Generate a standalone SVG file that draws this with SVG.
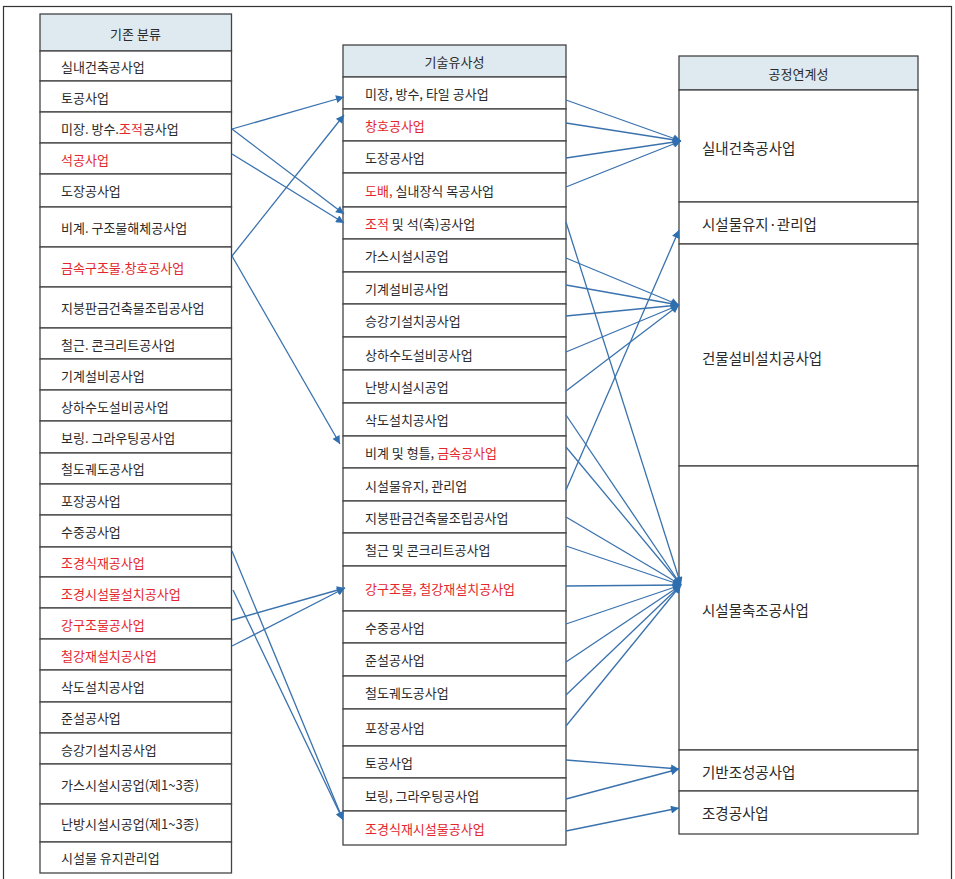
<svg xmlns="http://www.w3.org/2000/svg" width="955" height="879" viewBox="0 0 955 879">
<style>
.cell{fill:#fff;stroke:#444;stroke-width:1.3}
.hd{fill:#dee9f0;stroke:#444;stroke-width:1.3}
text{font-family:"Noto Sans CJK KR","Noto Sans",sans-serif;font-size:13px;fill:#2a2a2a;dominant-baseline:central}
.c{text-anchor:middle}
.big{font-size:14.5px}
.r{fill:#e3262c}
.con line{stroke:#3a72ae;stroke-width:1.3;marker-end:url(#ah)}
</style>
<defs>
<marker id="ah" viewBox="0 0 10 10" refX="10" refY="5" markerWidth="11" markerHeight="8" markerUnits="userSpaceOnUse" orient="auto">
<path d="M0,0 L10,5 L0,10 Z" fill="#2f6fb0"/>
</marker>
</defs>
<rect x="3.5" y="6.5" width="948" height="885" fill="none" stroke="#333" stroke-width="1.2"/>

<g id="left">
<g id="L0"><rect class="hd" x="40" y="14" width="191.5" height="37"/><text class="c" x="135.5" y="33">기존 분류</text></g>
<g id="L1"><rect class="cell" x="40" y="51" width="191.5" height="30"/><text x="61" y="66">실내건축공사업</text></g>
<g id="L2"><rect class="cell" x="40" y="81" width="191.5" height="31"/><text x="61" y="97">토공사업</text></g>
<g id="L3"><rect class="cell" x="40" y="112" width="191.5" height="31"/><text x="61" y="128">미장. 방수.<tspan class="r">조적</tspan>공사업</text></g>
<g id="L4"><rect class="cell" x="40" y="143" width="191.5" height="31"/><text x="61" y="159" class="r">석공사업</text></g>
<g id="L5"><rect class="cell" x="40" y="174" width="191.5" height="33"/><text x="61" y="190">도장공사업</text></g>
<g id="L6"><rect class="cell" x="40" y="207" width="191.5" height="40"/><text x="61" y="227">비계. 구조물해체공사업</text></g>
<g id="L7"><rect class="cell" x="40" y="247" width="191.5" height="40"/><text x="61" y="267" class="r">금속구조물.창호공사업</text></g>
<g id="L8"><rect class="cell" x="40" y="287" width="191.5" height="41"/><text x="61" y="307">지붕판금건축물조립공사업</text></g>
<g id="L9"><rect class="cell" x="40" y="328" width="191.5" height="31"/><text x="61" y="344">철근. 콘크리트공사업</text></g>
<g id="L10"><rect class="cell" x="40" y="359" width="191.5" height="31"/><text x="61" y="375">기계설비공사업</text></g>
<g id="L11"><rect class="cell" x="40" y="390" width="191.5" height="31"/><text x="61" y="406">상하수도설비공사업</text></g>
<g id="L12"><rect class="cell" x="40" y="421" width="191.5" height="32"/><text x="61" y="437">보링. 그라우팅공사업</text></g>
<g id="L13"><rect class="cell" x="40" y="453" width="191.5" height="31"/><text x="61" y="468">철도궤도공사업</text></g>
<g id="L14"><rect class="cell" x="40" y="484" width="191.5" height="31"/><text x="61" y="500">포장공사업</text></g>
<g id="L15"><rect class="cell" x="40" y="515" width="191.5" height="32"/><text x="61" y="531">수중공사업</text></g>
<g id="L16"><rect class="cell" x="40" y="547" width="191.5" height="30"/><text x="61" y="562" class="r">조경식재공사업</text></g>
<g id="L17"><rect class="cell" x="40" y="577" width="191.5" height="31"/><text x="61" y="593" class="r">조경시설물설치공사업</text></g>
<g id="L18"><rect class="cell" x="40" y="608" width="191.5" height="31"/><text x="61" y="624" class="r">강구조물공사업</text></g>
<g id="L19"><rect class="cell" x="40" y="639" width="191.5" height="31"/><text x="61" y="655" class="r">철강재설치공사업</text></g>
<g id="L20"><rect class="cell" x="40" y="670" width="191.5" height="32"/><text x="61" y="686">삭도설치공사업</text></g>
<g id="L21"><rect class="cell" x="40" y="702" width="191.5" height="31"/><text x="61" y="717">준설공사업</text></g>
<g id="L22"><rect class="cell" x="40" y="733" width="191.5" height="31"/><text x="61" y="749">승강기설치공사업</text></g>
<g id="L23"><rect class="cell" x="40" y="764" width="191.5" height="40"/><text x="61" y="784">가스시설시공업(제1~3종)</text></g>
<g id="L24"><rect class="cell" x="40" y="804" width="191.5" height="38"/><text x="61" y="823">난방시설시공업(제1~3종)</text></g>
<g id="L25"><rect class="cell" x="40" y="842" width="191.5" height="31"/><text x="61" y="857">시설물 유지관리업</text></g>
</g>

<g id="middle">
<g id="M0"><rect class="hd" x="343" y="45" width="223" height="32"/><text class="c" x="454.5" y="61">기술유사성</text></g>
<g id="M1"><rect class="cell" x="343" y="77" width="223" height="32"/><text x="365" y="93">미장, 방수, 타일 공사업</text></g>
<g id="M2"><rect class="cell" x="343" y="109" width="223" height="32"/><text x="365" y="125" class="r">창호공사업</text></g>
<g id="M3"><rect class="cell" x="343" y="141" width="223" height="32"/><text x="365" y="157">도장공사업</text></g>
<g id="M4"><rect class="cell" x="343" y="173" width="223" height="34"/><text x="365" y="190"><tspan class="r">도배,</tspan> 실내장식 목공사업</text></g>
<g id="M5"><rect class="cell" x="343" y="207" width="223" height="32"/><text x="365" y="223"><tspan class="r">조적</tspan> 및 석(축)공사업</text></g>
<g id="M6"><rect class="cell" x="343" y="239" width="223" height="33"/><text x="365" y="255">가스시설시공업</text></g>
<g id="M7"><rect class="cell" x="343" y="272" width="223" height="32"/><text x="365" y="288">기계설비공사업</text></g>
<g id="M8"><rect class="cell" x="343" y="304" width="223" height="33"/><text x="365" y="320">승강기설치공사업</text></g>
<g id="M9"><rect class="cell" x="343" y="337" width="223" height="33"/><text x="365" y="354">상하수도설비공사업</text></g>
<g id="M10"><rect class="cell" x="343" y="370" width="223" height="33"/><text x="365" y="386">난방시설시공업</text></g>
<g id="M11"><rect class="cell" x="343" y="403" width="223" height="33"/><text x="365" y="419">삭도설치공사업</text></g>
<g id="M12"><rect class="cell" x="343" y="436" width="223" height="32"/><text x="365" y="452">비계 및 형틀, <tspan class="r">금속공사업</tspan></text></g>
<g id="M13"><rect class="cell" x="343" y="468" width="223" height="33"/><text x="365" y="485">시설물유지, 관리업</text></g>
<g id="M14"><rect class="cell" x="343" y="501" width="223" height="32"/><text x="365" y="517">지붕판금건축물조립공사업</text></g>
<g id="M15"><rect class="cell" x="343" y="533" width="223" height="33"/><text x="365" y="549">철근 및 콘크리트공사업</text></g>
<g id="M16"><rect class="cell" x="343" y="566" width="223" height="45"/><text x="365" y="588" class="r">강구조물, 철강재설치공사업</text></g>
<g id="M17"><rect class="cell" x="343" y="611" width="223" height="32"/><text x="365" y="627">수중공사업</text></g>
<g id="M18"><rect class="cell" x="343" y="643" width="223" height="33"/><text x="365" y="659">준설공사업</text></g>
<g id="M19"><rect class="cell" x="343" y="676" width="223" height="33"/><text x="365" y="692">철도궤도공사업</text></g>
<g id="M20"><rect class="cell" x="343" y="709" width="223" height="37"/><text x="365" y="727">포장공사업</text></g>
<g id="M21"><rect class="cell" x="343" y="746" width="223" height="32"/><text x="365" y="762">토공사업</text></g>
<g id="M22"><rect class="cell" x="343" y="778" width="223" height="33"/><text x="365" y="795">보링, 그라우팅공사업</text></g>
<g id="M23"><rect class="cell" x="343" y="811" width="223" height="34"/><text x="365" y="828" class="r">조경식재시설물공사업</text></g>
</g>

<g id="right">
<g id="R0"><rect class="hd" x="679" y="56" width="239" height="34"/><text class="c" x="798.5" y="73">공정연계성</text></g>
<g id="R1"><rect class="cell" x="679" y="90" width="239" height="112"/><text x="702" y="147" class="big">실내건축공사업</text></g>
<g id="R2"><rect class="cell" x="679" y="202" width="239" height="42"/><text x="702" y="223" class="big">시설물유지·관리업</text></g>
<g id="R3"><rect class="cell" x="679" y="244" width="239" height="222"/><text x="702" y="357" class="big">건물설비설치공사업</text></g>
<g id="R4"><rect class="cell" x="679" y="466" width="239" height="284"/><text x="702" y="609" class="big">시설물축조공사업</text></g>
<g id="R5"><rect class="cell" x="679" y="750" width="239" height="41"/><text x="702" y="771" class="big">기반조성공사업</text></g>
<g id="R6"><rect class="cell" x="679" y="791" width="239" height="43"/><text x="702" y="812" class="big">조경공사업</text></g>
</g>

<g id="connectors" class="con">
<line x1="232" y1="129" x2="344" y2="97"/>
<line x1="232" y1="129" x2="344" y2="214"/>
<line x1="232" y1="154" x2="344" y2="223"/>
<line x1="232" y1="256" x2="344" y2="115"/>
<line x1="232" y1="256" x2="340" y2="444"/>
<line x1="232" y1="551" x2="343" y2="820"/>
<line x1="233" y1="590" x2="343" y2="820"/>
<line x1="232" y1="620" x2="345" y2="588"/>
<line x1="232" y1="646" x2="345" y2="588"/>

<line x1="566" y1="100" x2="681" y2="141"/>
<line x1="566" y1="123" x2="681" y2="141"/>
<line x1="566" y1="158" x2="681" y2="141"/>
<line x1="566" y1="187" x2="681" y2="141"/>

<line x1="566" y1="490" x2="679" y2="230"/>

<line x1="566" y1="258" x2="679" y2="305"/>
<line x1="566" y1="285" x2="679" y2="305"/>
<line x1="566" y1="316" x2="679" y2="305"/>
<line x1="566" y1="352" x2="679" y2="305"/>
<line x1="566" y1="391" x2="679" y2="305"/>

<line x1="566" y1="222" x2="681" y2="585"/>
<line x1="566" y1="415" x2="681" y2="585"/>
<line x1="566" y1="447" x2="681" y2="585"/>
<line x1="566" y1="517" x2="681" y2="585"/>
<line x1="566" y1="546" x2="681" y2="585"/>
<line x1="566" y1="586" x2="681" y2="585"/>
<line x1="566" y1="624" x2="681" y2="585"/>
<line x1="566" y1="662" x2="681" y2="585"/>
<line x1="566" y1="695" x2="681" y2="585"/>
<line x1="566" y1="726" x2="681" y2="585"/>

<line x1="566" y1="760" x2="679" y2="769"/>
<line x1="566" y1="799" x2="679" y2="769"/>
<line x1="566" y1="831" x2="679" y2="808"/>
</g>
</svg>
